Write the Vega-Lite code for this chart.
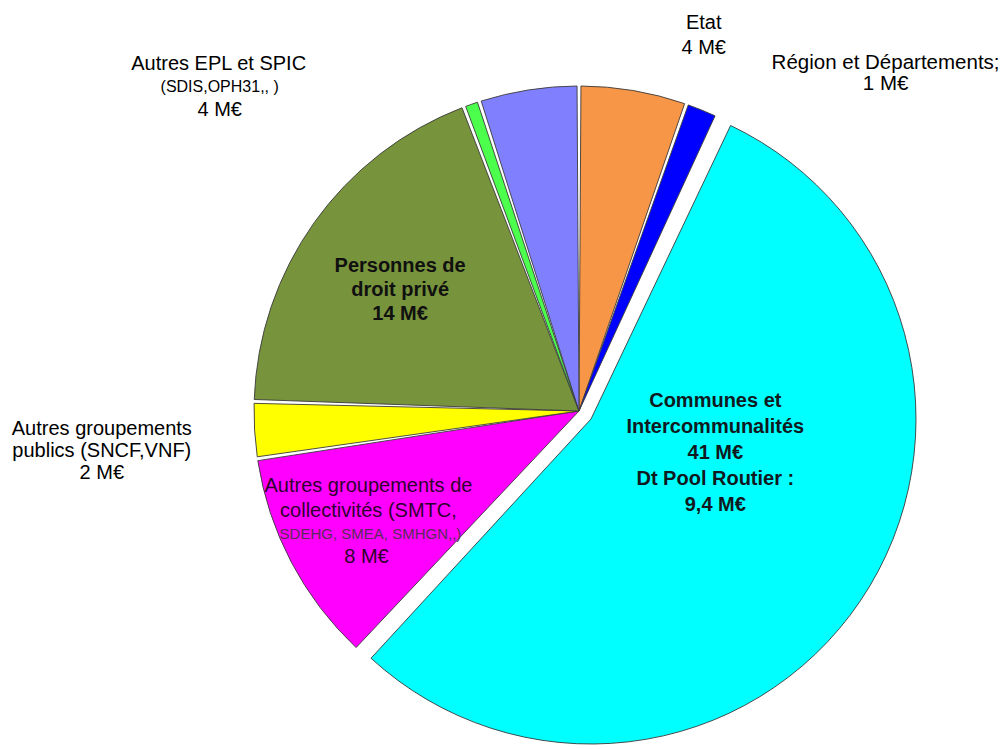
{
  "$schema": "https://vega.github.io/schema/vega-lite/v6.json",
  "width": 650,
  "height": 650,
  "autosize": {"type": "none"},
  "padding": {"left": 254, "top": 86, "right": 103, "bottom": 13},
  "background": "white",
  "config": {"view": {"stroke": null}, "text": {"font": "Liberation Sans"}},
  "data": {
    "values": [
      {"cat": "Etat", "value": 4, "ord": 1, "label": "Etat\n4 M€"},
      {"cat": "Région et Départements", "value": 1.2, "ord": 2, "label": "Région  et Départements;\n1 M€"},
      {"cat": "Communes et Intercommunalités", "value": 41, "ord": 3, "label": "Communes  et\nIntercommunalités\n41 M€\nDt Pool Routier :\n9,4 M€"},
      {"cat": "Autres groupements de collectivités", "value": 8, "ord": 4, "label": "Autres groupements  de\ncollectivités  (SMTC,", "detail": "SDEHG,  SMEA,  SMHGN,,)", "amount": "8 M€"},
      {"cat": "Autres groupements publics", "value": 2.1, "ord": 5, "label": "Autres groupements\npublics  (SNCF,VNF)\n2 M€"},
      {"cat": "Personnes de droit privé", "value": 14, "ord": 6, "label": "Personnes de\ndroit privé\n14 M€"},
      {"cat": "Divers", "value": 0.6, "ord": 7},
      {"cat": "Autres EPL et SPIC", "value": 3.7, "ord": 8, "label": "Autres EPL et SPIC", "detail": "(SDIS,OPH31,, )", "amount": "4 M€"}
    ]
  },
  "encoding": {
    "theta": {"field": "value", "type": "quantitative", "stack": true},
    "order": {"field": "ord", "type": "quantitative"}
  },
  "layer": [
    {
      "mark": {"type": "arc", "radius": 325, "padAngle": 0.012, "stroke": "#3a3a3a", "strokeWidth": 0.9},
      "encoding": {
        "color": {
          "field": "cat", "type": "nominal", "legend": null,
          "scale": {
            "domain": ["Etat", "Région et Départements", "Communes et Intercommunalités", "Autres groupements de collectivités", "Autres groupements publics", "Personnes de droit privé", "Divers", "Autres EPL et SPIC"],
            "range": ["#F79646", "#0000FF", "#00FFFF", "#FF00FF", "#FFFF00", "#77933C", "#4CFF4C", "#8080FF"]
          }
        },
        "opacity": {"condition": {"test": "datum.cat === 'Communes et Intercommunalités'", "value": 0}, "value": 1}
      }
    },
    {
      "mark": {"type": "arc", "radius": 325, "padAngle": 0.012, "stroke": "#3a3a3a", "strokeWidth": 0.9, "xOffset": 12, "yOffset": 8},
      "encoding": {
        "color": {"field": "cat", "type": "nominal", "legend": null},
        "opacity": {"condition": {"test": "datum.cat === 'Communes et Intercommunalités'", "value": 1}, "value": 0}
      }
    },
    {
      "mark": {"type": "text", "radius": 380, "dx": 61, "dy": -13, "fontSize": 20, "lineHeight": 25, "lineBreak": "\n", "color": "black"},
      "encoding": {"text": {"condition": {"test": "datum.cat === 'Etat'", "field": "label"}, "value": ""}}
    },
    {
      "mark": {"type": "text", "radius": 380, "dx": 163, "dy": 4, "fontSize": 20.5, "lineHeight": 21, "lineBreak": "\n", "color": "black"},
      "encoding": {"text": {"condition": {"test": "datum.cat === 'Région et Départements'", "field": "label"}, "value": ""}}
    },
    {
      "mark": {"type": "text", "radius": 150, "dx": 12, "dy": -94, "fontSize": 20, "fontWeight": "bold", "lineHeight": 26, "lineBreak": "\n", "color": "#101820"},
      "encoding": {"text": {"condition": {"test": "datum.cat === 'Communes et Intercommunalités'", "field": "label"}, "value": ""}}
    },
    {
      "mark": {"type": "text", "radius": 200, "dx": -16, "dy": -29, "fontSize": 20, "fontWeight": "bold", "lineHeight": 24, "lineBreak": "\n", "color": "#101010"},
      "encoding": {"text": {"condition": {"test": "datum.cat === 'Personnes de droit privé'", "field": "label"}, "value": ""}}
    },
    {
      "mark": {"type": "text", "radius": 470, "dx": -8, "dy": -10, "fontSize": 20, "lineHeight": 22, "lineBreak": "\n", "color": "black"},
      "encoding": {"text": {"condition": {"test": "datum.cat === 'Autres groupements publics'", "field": "label"}, "value": ""}}
    },
    {
      "mark": {"type": "text", "radius": 230, "dx": -7, "dy": -32, "fontSize": 20, "lineHeight": 25, "lineBreak": "\n", "color": "#300030"},
      "encoding": {"text": {"condition": {"test": "datum.cat === 'Autres groupements de collectivités'", "field": "label"}, "value": ""}}
    },
    {
      "mark": {"type": "text", "radius": 230, "dx": -5, "dy": 16, "fontSize": 15, "color": "#5a2a5a"},
      "encoding": {"text": {"condition": {"test": "datum.cat === 'Autres groupements de collectivités'", "field": "detail"}, "value": ""}}
    },
    {
      "mark": {"type": "text", "radius": 230, "dx": -9, "dy": 39, "fontSize": 20, "color": "#300030"},
      "encoding": {"text": {"condition": {"test": "datum.cat === 'Autres groupements de collectivités'", "field": "amount"}, "value": ""}}
    },
    {
      "mark": {"type": "text", "radius": 350, "dx": -306, "dy": -1, "fontSize": 20, "color": "black"},
      "encoding": {"text": {"condition": {"test": "datum.cat === 'Autres EPL et SPIC'", "field": "label"}, "value": ""}}
    },
    {
      "mark": {"type": "text", "radius": 350, "dx": -305, "dy": 22, "fontSize": 16, "color": "black"},
      "encoding": {"text": {"condition": {"test": "datum.cat === 'Autres EPL et SPIC'", "field": "detail"}, "value": ""}}
    },
    {
      "mark": {"type": "text", "radius": 350, "dx": -305, "dy": 45, "fontSize": 20, "color": "black"},
      "encoding": {"text": {"condition": {"test": "datum.cat === 'Autres EPL et SPIC'", "field": "amount"}, "value": ""}}
    }
  ]
}
